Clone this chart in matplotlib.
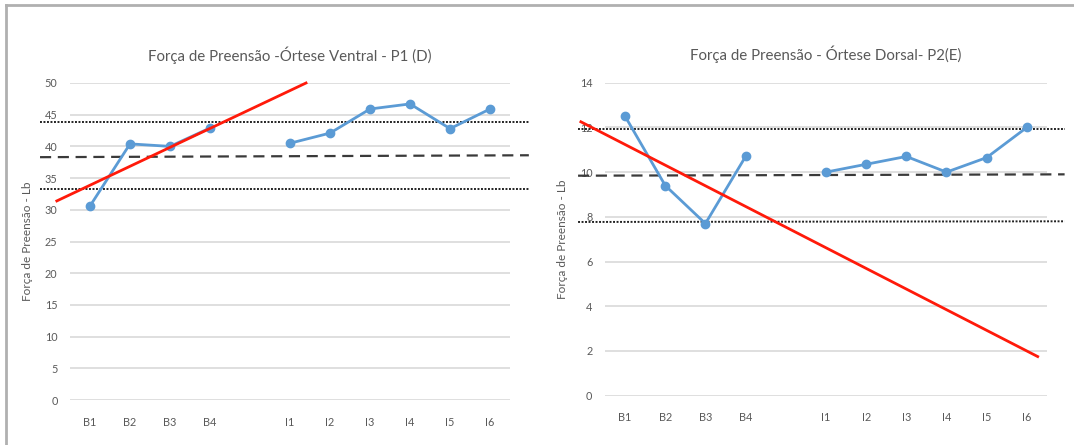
import numpy as np
import matplotlib
matplotlib.use("Agg")
import matplotlib.pyplot as plt
from matplotlib.lines import Line2D

plt.rcParams['font.family'] = ['Lato', 'DejaVu Sans']

categories = ["B1", "B2", "B3", "B4", "", "I1", "I2", "I3", "I4", "I5", "I6"]

left_title = "Força de Preensão -Órtese Ventral - P1 (D)"
left_values = [30.6, 40.4, 40.0, 42.9, np.nan, 40.5, 42.1, 45.9, 46.7, 42.8, 45.9]
left_upper = [43.85, 43.85]
left_mean = [38.3, 38.6]
left_lower = [33.3, 33.3]
left_trend_x = [-0.83, 5.4]
left_trend_y = [31.4, 50.0]
left_yticks = [0, 5, 10, 15, 20, 25, 30, 35, 40, 45, 50]

right_title = "Força de Preensão - Órtese Dorsal- P2(E)"
right_values = [12.5, 9.4, 7.7, 10.7, np.nan, 10.0, 10.35, 10.7, 10.0, 10.65, 12.0]
right_upper = [11.93, 11.93]
right_mean = [9.84, 9.9]
right_lower = [7.77, 7.8]
right_trend_x = [-1.1, 10.27]
right_trend_y = [12.25, 1.75]
right_yticks = [0, 2, 4, 6, 8, 10, 12, 14]

ylabel = "Força de Preensão - Lb"

TEXT = "#595959"
GRID = "#d9d9d9"
BLUE = "#5b9bd5"
RED = "#ff1a0a"

fig = plt.figure(figsize=(10.74, 4.45), dpi=100)

def panel(rect, title, values, upper, mean, lower, tx, ty, yticks, ext):
    ax = fig.add_axes(rect)
    x = np.arange(len(categories))
    ax.set_xlim(-0.5, len(categories) - 0.5)
    ax.set_ylim(yticks[0], yticks[-1])
    ax.set_yticks(yticks)
    ax.set_xticks(x)
    ax.set_xticklabels(categories)
    for s in ax.spines.values():
        s.set_visible(False)
    ax.tick_params(length=0, colors=TEXT, labelsize=7.8)
    ax.tick_params(axis='y', pad=9)
    ax.tick_params(axis='x', pad=12)
    ax.grid(axis='y', color=GRID, linewidth=1.2)
    ax.set_axisbelow(True)
    ax.plot(x, values, color=BLUE, linewidth=2, marker='o', markersize=6, zorder=4)
    ax.plot(ext, upper, color='#222222', linestyle=(0, (1, 0.8)), linewidth=1.4, clip_on=False, zorder=3)
    ax.plot(ext, mean, color='#3a3a3a', linestyle=(0, (5, 3)), linewidth=1.6, clip_on=False, zorder=3)
    ax.plot(ext, lower, color='#222222', linestyle=(0, (1, 0.8)), linewidth=1.4, clip_on=False, zorder=3)
    ax.plot(tx, ty, color=RED, linewidth=2, clip_on=False, zorder=5)
    ax.set_title(title, color=TEXT, fontsize=10.8, pad=16)
    ax.set_ylabel(ylabel, color=TEXT, fontsize=8.5)
    ax.yaxis.set_label_coords(-0.084, 0.5)
    return ax

panel([0.0652, 0.1011, 0.4097, 0.7124], left_title, left_values,
      left_upper, left_mean, left_lower, left_trend_x, left_trend_y, left_yticks, [-1.25, 10.97])
panel([0.5633, 0.1108, 0.4115, 0.7034], right_title, right_values,
      right_upper, right_mean, right_lower, right_trend_x, right_trend_y, right_yticks, [-1.17, 10.94])

# outer frame (top and left)
fig.add_artist(Line2D([6 / 1074, 1.0], [1 - 4.5 / 445, 1 - 4.5 / 445], color='#b0b0b0', linewidth=2, transform=fig.transFigure))
fig.add_artist(Line2D([6 / 1074, 6 / 1074], [0.0, 1 - 4.5 / 445], color='#b0b0b0', linewidth=2, transform=fig.transFigure))

fig.savefig("out.png", dpi=100)
